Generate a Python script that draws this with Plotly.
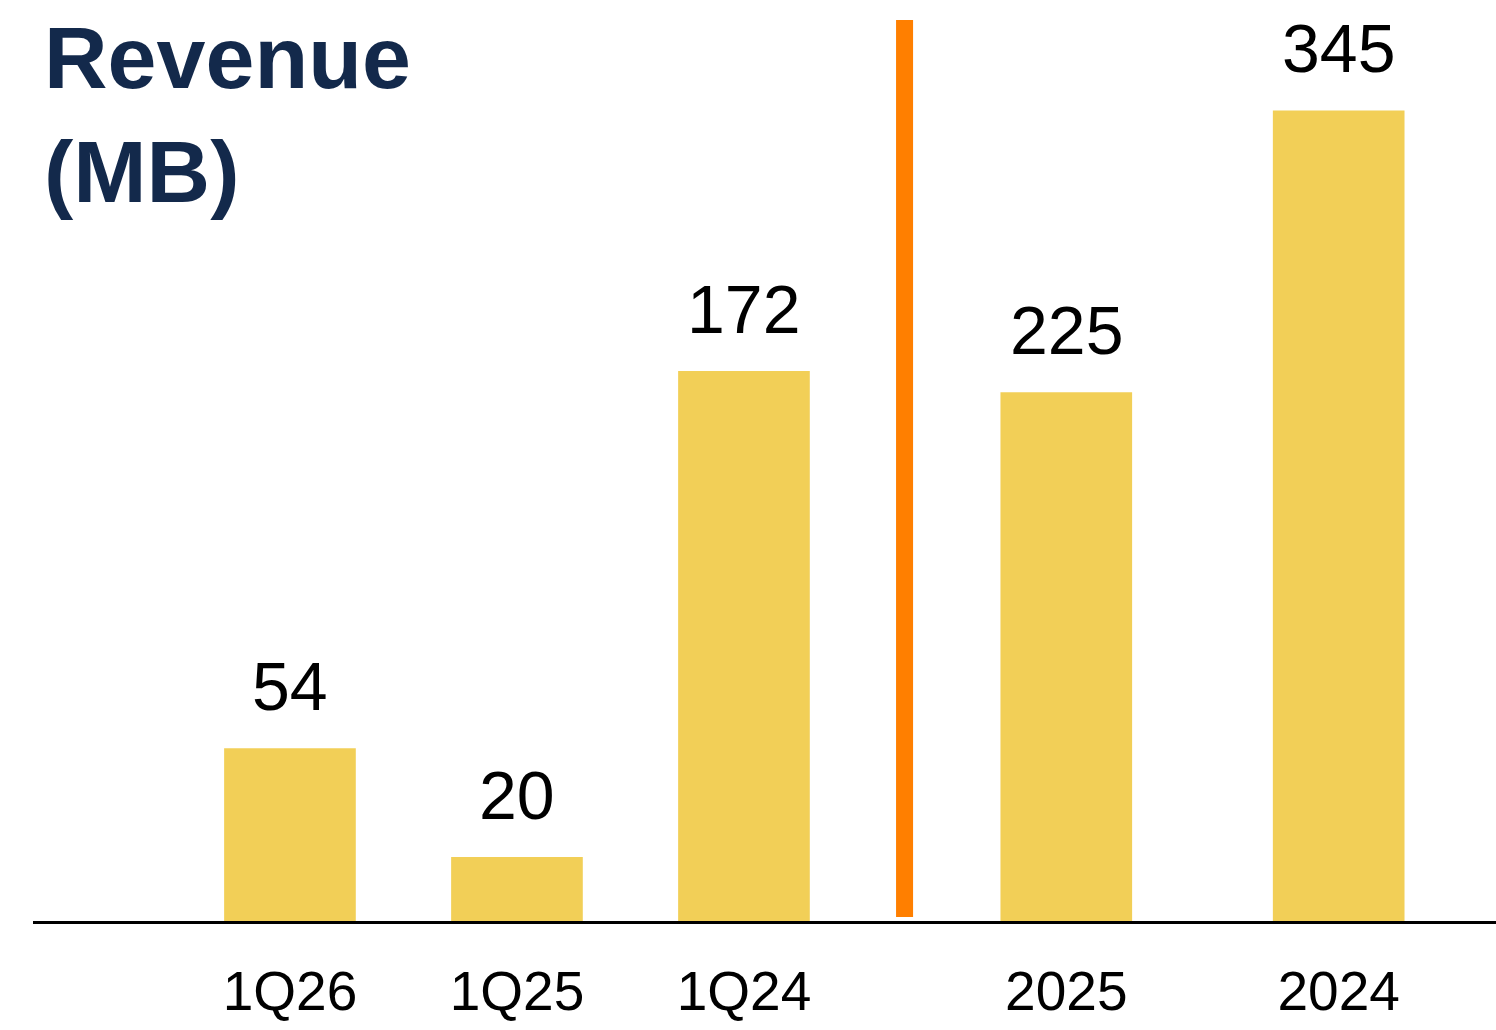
import plotly.graph_objects as go

# ---- data ----
quarter_labels = ["1Q26", "1Q25", "1Q24"]
quarter_revenue = [54, 20, 172]
year_labels = ["2025", "2024"]
year_revenue = [225, 345]
title_text = "Revenue<br>(MB)"

# ---- layout constants ----
quarter_pos = [0, 1, 2]
year_pos = [3.42, 4.62]
divider_pos = (2.67, 2.745)
bar_width = 0.58
bar_color = "#F2CF57"
orange = "#FF7F00"
navy = "#13294B"
font_family = "Liberation Sans, Arial, Helvetica, sans-serif"

fig = go.Figure()
fig.add_trace(go.Bar(x=quarter_pos, y=quarter_revenue, width=bar_width,
                     marker=dict(color=bar_color, line=dict(width=0)),
                     yaxis="y", hoverinfo="skip"))
fig.add_trace(go.Bar(x=year_pos, y=year_revenue, width=bar_width,
                     marker=dict(color=bar_color, line=dict(width=0)),
                     yaxis="y2", hoverinfo="skip"))

annotations = []
for xp, v in zip(quarter_pos, quarter_revenue):
    annotations.append(dict(x=xp, y=v, xref="x", yref="y", text=str(v),
                            showarrow=False, yanchor="bottom", yshift=22,
                            font=dict(size=68, color="#000000", family=font_family)))
for xp, v in zip(year_pos, year_revenue):
    annotations.append(dict(x=xp, y=v, xref="x", yref="y2", text=str(v),
                            showarrow=False, yanchor="bottom", yshift=22,
                            font=dict(size=68, color="#000000", family=font_family)))
annotations.append(dict(x=9 / 1463, y=1 - 6 / 921, xref="paper", yref="paper",
                        text="<b>" + title_text + "</b>", showarrow=False,
                        xanchor="left", yanchor="top", align="left",
                        font=dict(size=88, color=navy, family=font_family)))

fig.update_layout(
    width=1496, height=1030,
    margin=dict(l=33, r=0, t=0, b=109, autoexpand=False),
    paper_bgcolor="white", plot_bgcolor="white",
    showlegend=False, barmode="overlay",
    xaxis=dict(range=[-1.132, 5.313], tickvals=quarter_pos + year_pos,
               ticktext=quarter_labels + year_labels, showgrid=False, zeroline=False,
               showline=True, linecolor="#000000", linewidth=3, automargin=False,
               ticks="", ticklabelstandoff=20,
               tickfont=dict(size=55, color="#000000", family=font_family)),
    yaxis=dict(range=[0, 288], visible=False, showgrid=False, zeroline=False),
    yaxis2=dict(range=[0, 392], overlaying="y", visible=False,
                showgrid=False, zeroline=False),
    annotations=annotations,
    shapes=[dict(type="rect", xref="x", yref="paper",
                 x0=divider_pos[0], x1=divider_pos[1], y0=4 / 921, y1=901 / 921,
                 fillcolor=orange, line=dict(width=0), layer="above")],
)

fig.write_html("out.html", config={"responsive": False, "displayModeBar": False},
               post_script="document.body.style.margin='0';document.body.style.overflow='hidden';")
